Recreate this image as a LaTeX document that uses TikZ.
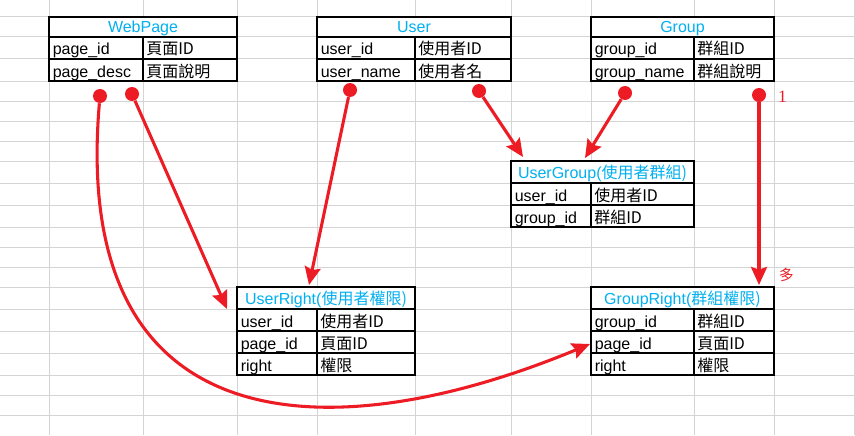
\documentclass[tikz,border=0pt]{standalone}
\usepackage{fontspec}
\setmainfont{Liberation Sans}
\newfontfamily\cjk{Noto Sans CJK TC}
\newfontfamily\numfont{Liberation Serif}
\usetikzlibrary{arrows.meta}

\definecolor{linkred}{RGB}{237,28,36}
\definecolor{titleblue}{RGB}{0,176,240}
\definecolor{gridgray}{RGB}{212,212,212}

\begin{document}
\fontsize{12}{14}\selectfont
\begin{tikzpicture}[x=0.75pt, y=-0.75pt]  % 1 unit = 1 pixel of the sheet, y downwards

    % Define some common styles
    \tikzset{
        gridline/.style={draw=gridgray, line width=0.75pt},
        tblbox/.style={draw=black, fill=white, line width=0.9pt},
        tblline/.style={draw=black, line width=0.9pt},
        title/.style={text=titleblue, anchor=base, inner sep=0pt},
        fld/.style={anchor=base west, inner sep=0pt},
        desc/.style={anchor=base west, inner sep=0pt, font=\cjk},
        dot/.style={circle, fill=linkred, minimum size=10.5pt, inner sep=0pt},
        link/.style={draw=linkred, line width=2.3pt, -{Stealth[length=13.5pt, width=12pt, inset=2pt]}},
        mult/.style={text=linkred, inner sep=0pt}
    }

    % White sheet and the spreadsheet grid
    \fill[white] (0,0) rectangle (855,435);
    \useasboundingbox (0,0) rectangle (855,435);
    \foreach \gx in {49,143,237,317,415,511,591,694,774,854}
        \draw[gridline] (\gx,0) -- (\gx,435);
    \foreach \gy in {17,37,59,81,101,121,141,161,183,205,227,247,267,287,309,331,353,375,395,415}
        \draw[gridline] (0,\gy) -- (855,\gy);

    % WebPage table
    \draw[tblbox] (49,17) rectangle (237,81);
    \draw[tblline] (49,37) -- (237,37) (49,59) -- (237,59) (143,37) -- (143,81);
    \node[title] (webpage) at (143,33) {WebPage};
    \node[fld] (webpage-id) at (52.5,55) {page\_id};
    \node[desc] at (146,55) {頁面ID};
    \node[fld] (webpage-desc) at (52.5,77) {page\_desc};
    \node[desc] at (146,77) {頁面說明};

    % User table
    \draw[tblbox] (317,17) rectangle (511,81);
    \draw[tblline] (317,37) -- (511,37) (317,59) -- (511,59) (415,37) -- (415,81);
    \node[title] (user) at (414,33) {User};
    \node[fld] (user-id) at (320.5,55) {user\_id};
    \node[desc] at (418,55) {使用者ID};
    \node[fld] (user-name) at (320.5,77) {user\_name};
    \node[desc] at (418,77) {使用者名};

    % Group table
    \draw[tblbox] (591,17) rectangle (774,81);
    \draw[tblline] (591,37) -- (774,37) (591,59) -- (774,59) (694,37) -- (694,81);
    \node[title] (group) at (682.5,33) {Group};
    \node[fld] (group-id) at (594.5,55) {group\_id};
    \node[desc] at (697,55) {群組ID};
    \node[fld] (group-name) at (594.5,77) {group\_name};
    \node[desc] at (697,77) {群組說明};

    % UserGroup table
    \draw[tblbox] (511,161) rectangle (694,227);
    \draw[tblline] (511,183) -- (694,183) (511,205) -- (694,205) (591,183) -- (591,227);
    \node[title] (usergroup) at (602.5,178.5) {UserGroup(\cjk 使用者群組)};
    \node[fld] at (514.5,201) {user\_id};
    \node[desc] at (594,201) {使用者ID};
    \node[fld] at (514.5,223) {group\_id};
    \node[desc] at (594,223) {群組ID};

    % UserRight table
    \draw[tblbox] (237,287) rectangle (415,375);
    \draw[tblline] (237,309) -- (415,309) (237,331) -- (415,331) (237,353) -- (415,353) (317,309) -- (317,375);
    \node[title] (userright) at (326,304.5) {UserRight(\cjk 使用者權限)};
    \node[fld] at (240.5,327) {user\_id};
    \node[desc] at (320,327) {使用者ID};
    \node[fld] at (240.5,349) {page\_id};
    \node[desc] at (320,349) {頁面ID};
    \node[fld] at (240.5,371) {right};
    \node[desc] at (320,371) {權限};

    % GroupRight table
    \draw[tblbox] (591,287) rectangle (774,375);
    \draw[tblline] (591,309) -- (774,309) (591,331) -- (774,331) (591,353) -- (774,353) (694,309) -- (694,375);
    \node[title] (groupright) at (682.5,304.5) {GroupRight(\cjk 群組權限)};
    \node[fld] at (594.5,327) {group\_id};
    \node[desc] at (697,327) {群組ID};
    \node[fld] at (594.5,349) {page\_id};
    \node[desc] at (697,349) {頁面ID};
    \node[fld] at (594.5,371) {right};
    \node[desc] at (697,371) {權限};

    % Link start dots
    \node[dot] (webid-dot) at (100,96) {};
    \node[dot] (webdesc-dot) at (132,94) {};
    \node[dot] (userid-dot) at (350,90) {};
    \node[dot] (username-dot) at (479,91) {};
    \node[dot] (groupid-dot) at (625,93) {};
    \node[dot] (groupname-dot) at (759,95) {};

    % Link targets
    \coordinate (grpage-tip) at (590,344);
    \coordinate (urpage-tip) at (227,309);
    \coordinate (uruser-tip) at (309,285);
    \coordinate (uguser-tip) at (523,157);
    \coordinate (uggroup-tip) at (585,158);
    \coordinate (grgroup-tip) at (759,285);

    % Links
    \draw[link] (webid-dot) .. controls (70,445) and (330,452) .. (grpage-tip);
    \draw[link] (webdesc-dot) -- (urpage-tip);
    \draw[link] (userid-dot) -- (uruser-tip);
    \draw[link] (username-dot) -- (uguser-tip);
    \draw[link] (groupid-dot) -- (uggroup-tip);
    \draw[link] (groupname-dot) -- (grgroup-tip);

    % Multiplicity marks
    \node[mult, font=\numfont\fontsize{13}{15}\selectfont] (one) at (782.5,96.5) {1};
    \node[mult, font=\cjk\fontsize{11}{13}\selectfont] (many) at (786.5,275) {多};

\end{tikzpicture}
\end{document}
